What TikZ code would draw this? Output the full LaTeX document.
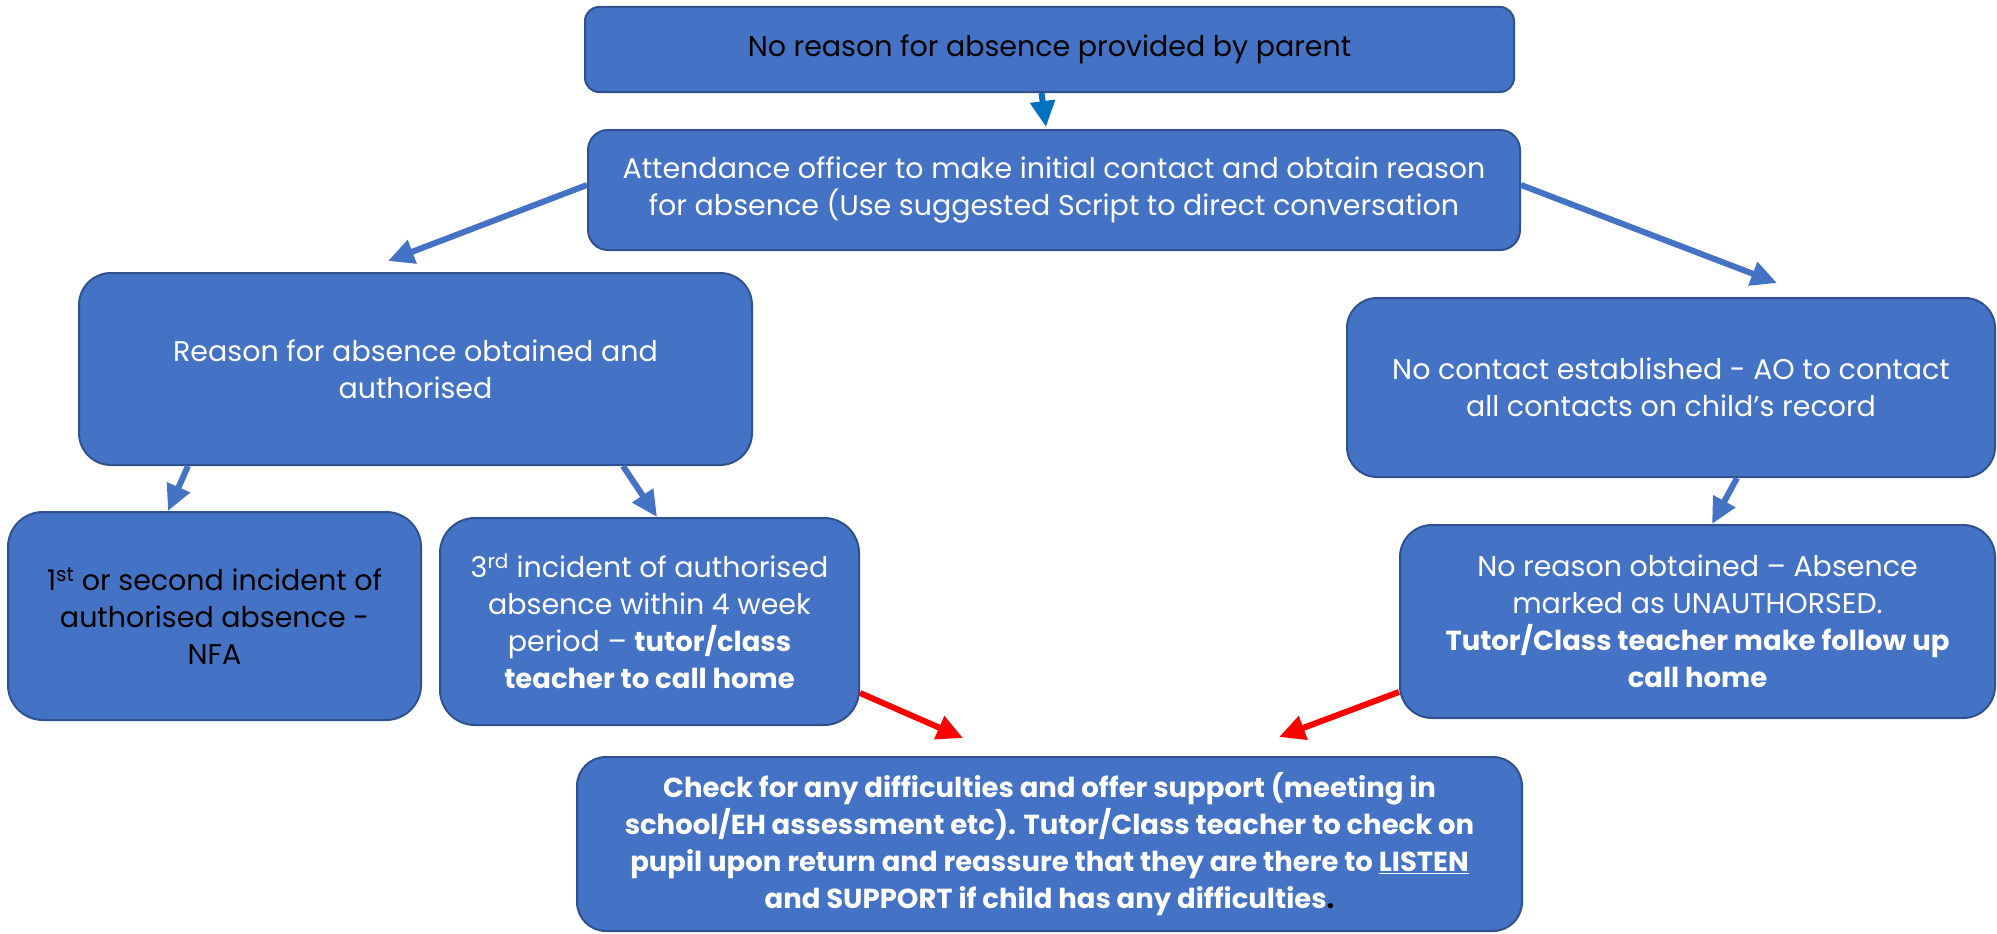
\documentclass[tikz,border=0pt]{standalone}
\usepackage{fontspec}
\setmainfont{Poppins}
\usepackage{xcolor}
\usetikzlibrary{arrows.meta}
\definecolor{boxblue}{HTML}{4472C4}
\definecolor{boxline}{HTML}{2F528F}
\definecolor{arrowblue}{HTML}{0070C0}
\definecolor{arrowred}{HTML}{FF0000}
\newcommand{\boldpart}[1]{{\fontsize{27.5}{37}\selectfont\bfseries #1}}

\begin{document}
\begin{tikzpicture}[x=1pt, y=-1pt]
		\tikzstyle{box}=[draw=boxline, line width=2pt, fill=boxblue, text=white, align=center, inner sep=0pt, font=\fontsize{28.5}{37}\selectfont]
		\tikzstyle{flow}=[-{Triangle[length=26pt, width=24pt]}, line width=6pt, boxblue]
		\tikzstyle{alert}=[flow, arrowred]
		\useasboundingbox (0,0) rectangle (1997,934);
		\node[box, text=black, minimum width=929pt, minimum height=85pt, rounded corners=14pt] (top) at (1049.5,49.5) {No reason for absence provided by parent};
		\node[box, minimum width=932pt, minimum height=120pt, rounded corners=20pt] (attend) at (1054,190) {Attendance officer to make initial contact and obtain reason\\for absence (Use suggested Script to direct conversation};
		\node[box, minimum width=673pt, minimum height=192pt, rounded corners=32pt] (reason) at (415.5,369) {Reason for absence obtained and\\authorised};
		\node[box, text=black, minimum width=413pt, minimum height=208pt, rounded corners=35pt] (first) at (214.5,616) {1\textsuperscript{st} or second incident of\\authorised absence -\\NFA};
		\node[box, minimum width=419pt, minimum height=207pt, rounded corners=35pt] (third) at (649.5,621.5) {3\textsuperscript{rd} incident of authorised\\absence within 4 week\\period -- \boldpart{tutor/class}\\\boldpart{teacher to call home}};
		\node[box, minimum width=648pt, minimum height=179pt, rounded corners=30pt] (nocontact) at (1671,387.5) {No contact established - AO to contact\\all contacts on child’s record};
		\node[box, minimum width=595pt, minimum height=193pt, rounded corners=32pt] (unauth) at (1697.5,621.5) {No reason obtained -- Absence\\marked as UNAUTHORSED.\\\boldpart{Tutor/Class teacher make follow up}\\\boldpart{call home}};
		\node[box, font=\fontsize{27.5}{37}\selectfont\bfseries, minimum width=945pt, minimum height=174pt, rounded corners=29pt] (support) at (1049.5,844) {Check for any difficulties and offer support (meeting in\\school/EH assessment etc). Tutor/Class teacher to check on\\pupil upon return and reassure that they are there to \underline{LISTEN}\\and SUPPORT if child has any difficulties{\color{black}.}};
		\draw[flow, arrowblue] ([xshift=-8pt]top.south) -- ([xshift=-8pt, yshift=2pt]attend.north);
		\path[flow] ([yshift=5pt]attend.west) edge ([xshift=-27.5pt, yshift=11pt]reason.north)
		            ([yshift=5pt]attend.east) edge ([xshift=106pt, yshift=14pt]nocontact.north)
		            ([xshift=-227.5pt]reason.south) edge ([xshift=-46.5pt]first.north)
		            ([xshift=207.5pt]reason.south) edge ([xshift=7.5pt]third.north)
		            ([xshift=66pt]nocontact.south) edge ([xshift=14.5pt]unauth.north);
		\path[alert] ([yshift=-71.5pt]third.east) edge ([xshift=-86.5pt, yshift=18pt]support.north)
		             ([yshift=-70.5pt]unauth.west) edge ([xshift=229.5pt, yshift=19pt]support.north);
	\end{tikzpicture}
\end{document}
